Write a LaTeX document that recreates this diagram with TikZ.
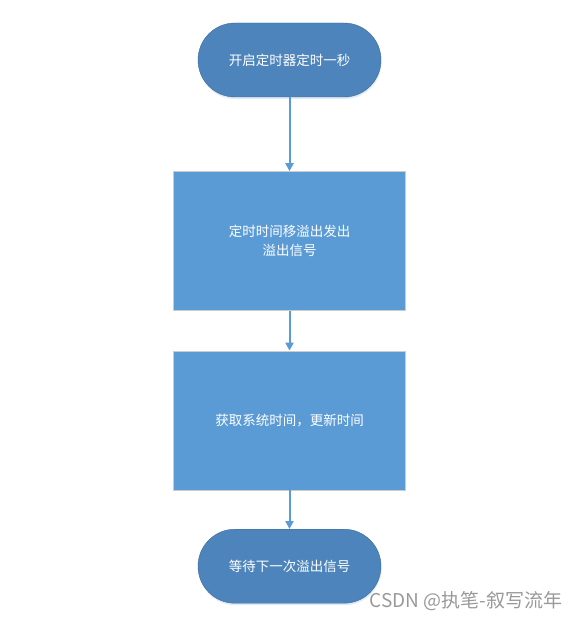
\documentclass[tikz,border=0pt]{standalone}
\usepackage{fontspec}
\newfontfamily\cjk{Noto Sans CJK SC}
\usepackage{xcolor}
\usepackage{tikz}
\usetikzlibrary{arrows.meta,positioning,shadows}

\definecolor{termblue}{HTML}{4C84BB}
\definecolor{boxblue}{HTML}{5B9BD5}
\definecolor{lineblue}{HTML}{5B9BD5}

\begin{document}
\begin{tikzpicture}[
  x=1bp, y=-1bp,
  font=\cjk\fontsize{13.5bp}{19bp}\selectfont,
  terminal/.style={draw=termblue!80!black, fill=termblue, text=white, rounded corners=37bp,
    minimum width=183bp, minimum height=74bp, align=center,
    drop shadow={opacity=0.2, shadow xshift=0.5bp, shadow yshift=-2bp, fill=lineblue}},
  box/.style={draw=black!20, fill=boxblue, text=white, align=center,
    minimum width=232bp, minimum height=139bp},
  arrow/.style={-{Triangle[length=8bp, width=8bp]}, draw=lineblue, line width=2bp}
]
  \useasboundingbox (0,0) rectangle (578,619);

  \node[terminal] (start) at (289.5,60) {开启定时器定时一秒};
  \node[box, below=74bp of start] (overflow) {定时时间移溢出发出\\溢出信号};
  \node[box, below=40bp of overflow] (update) {获取系统时间，更新时间};
  \node[terminal, below=39bp of update] (wait) {等待下一次溢出信号};

  \draw[arrow] (start) -- (overflow);
  \draw[arrow] (overflow) -- (update);
  \draw[arrow] (update) -- (wait);

  % watermark
  \node[text=black!40, font=\cjk\fontsize{19bp}{22bp}\selectfont, anchor=east] (mark) at (566,601) {CSDN @执笔-叙写流年};
\end{tikzpicture}
\end{document}
